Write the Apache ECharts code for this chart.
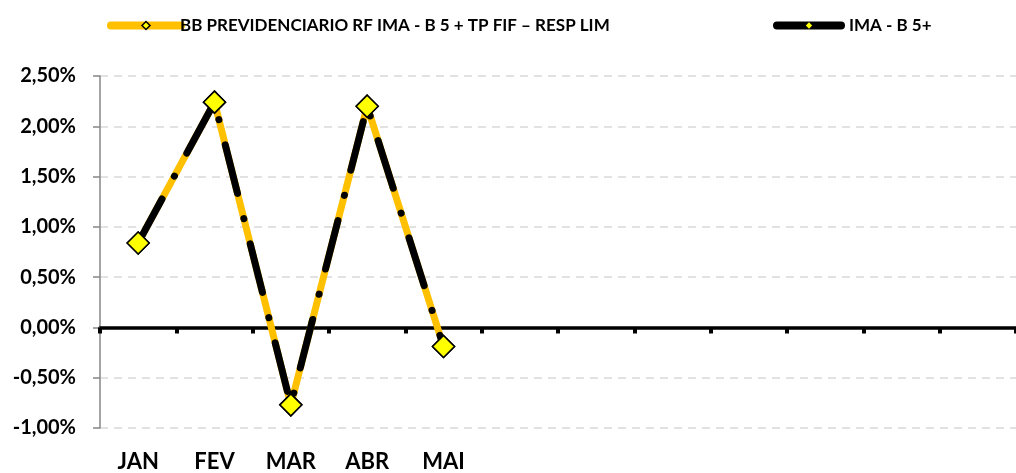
<!DOCTYPE html>
<html>
<head>
<meta charset="utf-8">
<script src="https://cdn.jsdelivr.net/npm/echarts@6/dist/echarts.min.js"></script>
<style>
html,body{margin:0;padding:0;background:#fff;}
#c{width:1016px;height:473px;}
</style>
</head>
<body>
<div id="c"></div>
<script>
var categories = ['JAN','FEV','MAR','ABR','MAI','','','','','','',''];
var fundName = 'BB PREVIDENCIARIO RF IMA - B 5 + TP FIF \u2013 RESP LIM';
var indexName = 'IMA - B 5+';
var fundValues = [0.84, 2.24, -0.77, 2.20, -0.19];
var indexValues = [0.84, 2.24, -0.77, 2.20, -0.19];
var yMin = -1, yMax = 2.5, yStep = 0.5;

var FONT = 'Lato';
var chart = echarts.init(document.getElementById('c'), null, {renderer:'canvas'});
function pct(v){ return v.toFixed(2).replace('.', ',') + '%'; }

chart.setOption({
  animation: false,
  backgroundColor: '#ffffff',
  legend: [
    {
      left: 102, top: 12, itemWidth: 70, itemHeight: 10, itemGap: 8,
      textStyle: {fontFamily: FONT, fontWeight: 'bold', fontSize: 17, color: '#000', padding: [0, 0, 0, -6]},
      data: [{name: fundName, itemStyle: {color: '#FFFF00', borderColor: '#000', borderWidth: 1.5}}],
      lineStyle: {width: 8, cap: 'round', type: 'solid'}
    },
    {
      left: 768, top: 12, itemWidth: 64, itemHeight: 8, itemGap: 8,
      textStyle: {fontFamily: FONT, fontWeight: 'bold', fontSize: 17, color: '#000', padding: [0, 0, 0, 3]},
      data: [{name: indexName, itemStyle: {color: '#FFFF00', borderWidth: 0}}],
      lineStyle: {width: 8, cap: 'round', type: 'solid', color: '#000'}
    }
  ],
  grid: {left: 100, right: 0, top: 76, bottom: 45, containLabel: false},
  xAxis: [
    {
      type: 'category', data: categories, position: 'bottom', boundaryGap: true,
      axisLine: {show: false, onZero: false}, axisTick: {show: false},
      axisLabel: {interval: 0, margin: 23, fontFamily: FONT, fontWeight: 'bold', fontSize: 22, color: '#000'},
      splitLine: {show: false}
    },
    {
      type: 'category', data: categories, position: 'bottom', boundaryGap: true,
      axisLine: {show: true, onZero: true, lineStyle: {color: '#000', width: 3.5}},
      axisTick: {show: true, inside: false, interval: 0, length: 6, lineStyle: {color: '#000', width: 4}},
      axisLabel: {show: false},
      splitLine: {show: false}
    }
  ],
  yAxis: {
    type: 'value', min: yMin, max: yMax, interval: yStep,
    axisLine: {show: true, lineStyle: {color: '#868686', width: 1.5}},
    axisTick: {show: true, inside: false, length: 7, lineStyle: {color: '#868686', width: 1.5}},
    axisLabel: {formatter: pct, margin: 24, fontFamily: FONT, fontWeight: 'bold', fontSize: 20, color: '#000'},
    splitLine: {show: true, lineStyle: {color: '#D9D9D9', width: 1.5, type: [8, 6]}}
  },
  series: [
    {
      name: fundName, type: 'line', xAxisIndex: 0, data: fundValues,
      lineStyle: {color: '#FFC000', width: 7, cap: 'round', join: 'round'},
      itemStyle: {color: '#FFFF00', borderColor: '#000', borderWidth: 1.5},
      symbol: 'diamond', symbolSize: 22, showSymbol: true
    },
    {
      name: indexName, type: 'line', xAxisIndex: 0, data: indexValues,
      lineStyle: {color: '#000', width: 7, cap: 'round', join: 'round', type: [50, 26, 0.1, 26]},
      itemStyle: {color: '#FFFF00', borderColor: '#000', borderWidth: 1.5},
      symbol: 'diamond', symbolSize: 22, showSymbol: true
    }
  ]
});
</script>
</body>
</html>
